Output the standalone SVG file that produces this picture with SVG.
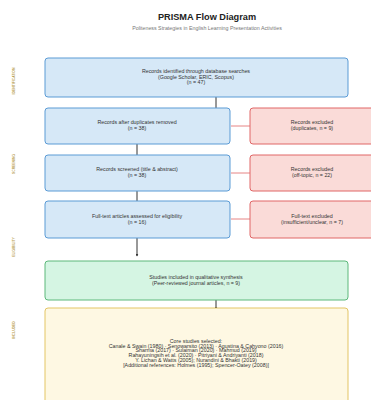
<svg xmlns="http://www.w3.org/2000/svg" width="371" height="400" viewBox="0 0 371 400">
<defs>
<style>
text{font-family:"Liberation Sans",Arial,sans-serif;fill:#333}
.t{font-size:5.3px;text-anchor:middle}
.blue{fill:#d6e8f7;stroke:#5b9bd5;stroke-width:1}
.red{fill:#fadbd8;stroke:#e06666;stroke-width:1}
.green{fill:#d5f5e3;stroke:#5cb87a;stroke-width:1}
.yellow{fill:#fef8e3;stroke:#e3c565;stroke-width:1}
.side{font-size:3.4px;font-weight:bold;fill:#b8a050;text-anchor:middle}
.ar{stroke:#333;stroke-width:1;fill:none;marker-end:url(#ah)}
.rl{stroke:#e06666;stroke-width:0.8;fill:none}
</style>
<marker id="ah" viewBox="0 0 6 6" refX="5" refY="3" markerWidth="3" markerHeight="3" orient="auto"><path d="M0,0 L6,3 L0,6 z" fill="#333"/></marker>
</defs>
<rect width="371" height="400" fill="#ffffff"/>
<text x="207" y="20" style="font-size:9.2px;font-weight:bold;text-anchor:middle;fill:#222">PRISMA Flow Diagram</text>
<text x="207" y="30" class="t" style="fill:#777">Politeness Strategies in English Learning Presentation Activities</text>

<g id="side-labels">
<text class="side" transform="translate(15,81) rotate(-90)">IDENTIFICATION</text>
<text class="side" transform="translate(15,164) rotate(-90)">SCREENING</text>
<text class="side" transform="translate(15,247) rotate(-90)">ELIGIBILITY</text>
<text class="side" transform="translate(15,330) rotate(-90)">INCLUDED</text>
</g>

<g id="connectors">
<line class="ar" x1="216" y1="97" x2="216" y2="114"/>
<line class="ar" x1="137" y1="144" x2="137" y2="161"/>
<line class="ar" x1="137" y1="191" x2="137" y2="207"/>
<line class="ar" x1="137" y1="238" x2="137" y2="256"/>
<line class="ar" x1="216" y1="300" x2="216" y2="309"/>
<line class="rl" x1="231" y1="126" x2="250" y2="126"/>
<line class="rl" x1="231" y1="173" x2="250" y2="173"/>
<line class="rl" x1="231" y1="219" x2="250" y2="219"/>
</g>

<g id="identified">
<rect class="blue" x="45" y="58" width="303" height="39" rx="3"/>
<text class="t" x="196" y="73">Records identified through database searches</text>
<text class="t" x="196" y="78.5">(Google Scholar, ERIC, Scopus)</text>
<text class="t" x="196" y="84">(n = 47)</text>
</g>

<g id="dedup">
<rect class="blue" x="45" y="108" width="185" height="36" rx="3"/>
<text class="t" x="137" y="124">Records after duplicates removed</text>
<text class="t" x="137" y="129.5">(n = 38)</text>
</g>
<g id="excl-dup">
<rect class="red" x="250" y="108" width="125" height="36" rx="3"/>
<text class="t" x="312" y="124">Records excluded</text>
<text class="t" x="312" y="129.5">(duplicates, n = 9)</text>
</g>

<g id="screened">
<rect class="blue" x="45" y="155" width="185" height="36" rx="3"/>
<text class="t" x="137" y="171">Records screened (title &amp; abstract)</text>
<text class="t" x="137" y="176.5">(n = 38)</text>
</g>
<g id="excl-topic">
<rect class="red" x="250" y="155" width="125" height="36" rx="3"/>
<text class="t" x="312" y="171">Records excluded</text>
<text class="t" x="312" y="176.5">(off-topic, n = 22)</text>
</g>

<g id="fulltext">
<rect class="blue" x="45" y="201" width="185" height="37" rx="3"/>
<text class="t" x="137" y="218">Full-text articles assessed for eligibility</text>
<text class="t" x="137" y="223.5">(n = 16)</text>
</g>
<g id="excl-full">
<rect class="red" x="250" y="201" width="125" height="37" rx="3"/>
<text class="t" x="312" y="218">Full-text excluded</text>
<text class="t" x="312" y="223.5">(insufficient/unclear, n = 7)</text>
</g>

<g id="included">
<rect class="green" x="45" y="261" width="303" height="39" rx="3"/>
<text class="t" x="196" y="279">Studies included in qualitative synthesis</text>
<text class="t" x="196" y="284.5">(Peer-reviewed journal articles, n = 9)</text>
</g>

<g id="core">
<rect class="yellow" x="45" y="308" width="303" height="100" rx="3"/>
<text class="t" x="196" y="343">Core studies selected:</text>
<text class="t" x="196" y="347.7">Canale &amp; Swain (1980) · Senowarsito (2013) · Agustina &amp; Cahyono (2016)</text>
<text class="t" x="196" y="352.4">Sharma (2017) · Sulaiman (2020) · Mahmud (2019)</text>
<text class="t" x="196" y="357.1">Rahayuningsih et al. (2020) · Pitriyani &amp; Andriyanti (2018)</text>
<text class="t" x="196" y="361.8">Y. Lichan &amp; Watts (2005); Nurandini &amp; Bhakti (2019)</text>
<text class="t" x="196" y="366.5">[Additional references: Holmes (1995); Spencer-Oatey (2008)]</text>
</g>
</svg>
